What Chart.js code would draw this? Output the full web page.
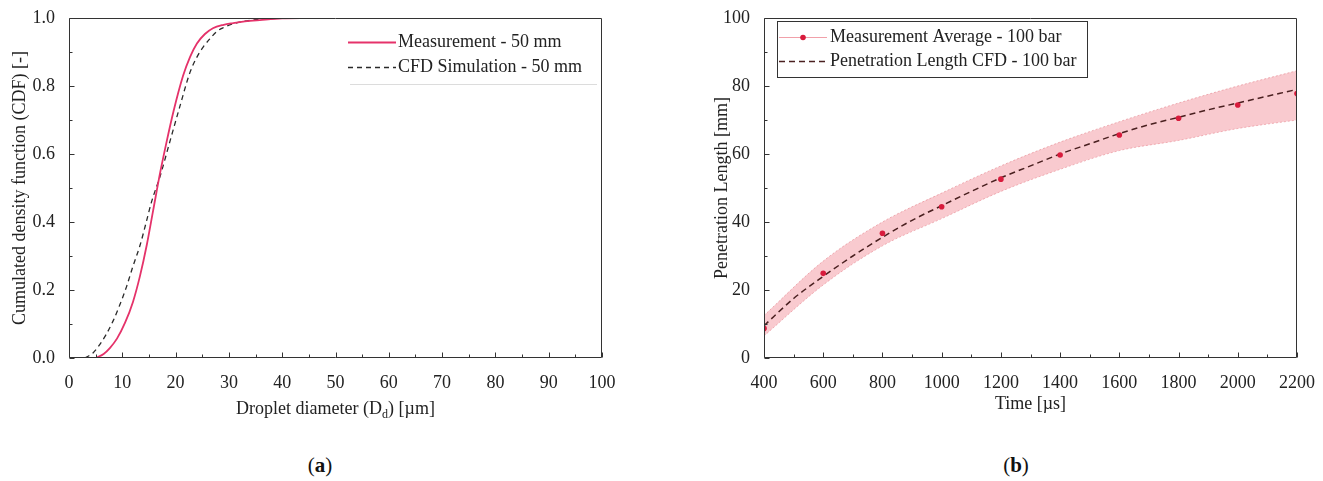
<!DOCTYPE html>
<html><head><meta charset="utf-8">
<script src="https://cdn.jsdelivr.net/npm/chart.js@4.4.1/dist/chart.umd.min.js"></script>
<style>
html,body{margin:0;padding:0;background:#fff;width:1323px;height:481px;overflow:hidden}
.box{position:absolute}
.cap{position:absolute;font-family:'Liberation Serif',serif;font-size:21px;color:#111;transform:translateX(-50%);white-space:nowrap}
</style></head><body>
<div class="box" style="left:0;top:0;width:640px;height:430px"><canvas id="c1"></canvas></div>
<div class="box" style="left:700px;top:0;width:623px;height:430px"><canvas id="c2"></canvas></div>
<div class="cap" style="left:320px;top:453px">(<b>a</b>)</div>
<div class="cap" style="left:1016px;top:453px">(<b>b</b>)</div>
<script>
// ---- Panel (a): droplet size CDF ----
const measDiameter = [5, 6.5, 7.7, 9, 10.5, 12, 13.3, 14.6, 15.8, 17.1, 18.3, 19.6, 21.4, 22.7, 24, 25.5, 27, 29, 30.8, 33, 35.8, 40, 45];
const measCdf      = [0, 0.012, 0.03, 0.057, 0.103, 0.165, 0.24, 0.333, 0.435, 0.545, 0.635, 0.725, 0.83, 0.885, 0.925, 0.953, 0.97, 0.98, 0.985, 0.99, 0.994, 0.999, 1.0];
const cfdDiameter  = [3, 4.5, 5.8, 7, 8.3, 9.5, 10.8, 12, 13.3, 14.5, 15.5, 17.1, 18.9, 20.8, 22.7, 24, 25.2, 26.5, 27.7, 29, 30.8, 34.5, 38, 42];
const cfdCdf       = [0, 0.015, 0.04, 0.07, 0.11, 0.155, 0.21, 0.27, 0.33, 0.4, 0.46, 0.535, 0.635, 0.74, 0.84, 0.885, 0.915, 0.94, 0.96, 0.972, 0.983, 0.994, 0.998, 1.0];
const cdfLabels = ['Measurement - 50 mm', 'CFD Simulation - 50 mm'];

// ---- Panel (b): penetration length ----
const timeMeas   = [400, 600, 800, 1000, 1200, 1400, 1600, 1800, 2000, 2200];
const lenMeas    = [8.7, 24.9, 36.7, 44.5, 52.6, 59.7, 65.6, 70.5, 74.4, 77.8];
const bandUpper  = [12.5, 28.5, 40, 48.5, 56.5, 63.5, 69.5, 75, 80, 84.5];
const bandLower  = [6.5, 21.5, 33, 41, 49, 55.5, 61, 64, 67.5, 70];
const timeCfd    = [400, 500, 600, 700, 800, 900, 1000, 1100, 1200, 1300, 1400, 1500, 1600, 1700, 1800, 1900, 2000, 2100, 2200];
const lenCfd     = [9.5, 17.5, 24, 30, 35.5, 40.5, 44.8, 49, 53, 56.5, 60, 63, 66, 68.6, 70.8, 73, 75, 77, 79];
const penLabels = ['Measurement Average - 100 bar', 'Penetration Length CFD - 100 bar'];

const FONT = "'Liberation Serif', serif";
const TXT = '#222';
const zip = (xs, ys) => xs.map((x, i) => ({x, y: ys[i]}));

const framePlugin = {
  id: 'frameTicks',
  afterDatasetsDraw(chart, args, o) {
    const {ctx, chartArea: a, scales: {x, y}} = chart;
    ctx.save();
    ctx.strokeStyle = '#333'; ctx.lineWidth = 1;
    const L = Math.round(a.left) + 0.5, R = Math.round(a.right) - 0.5, T = Math.round(a.top) + 0.5, B = Math.round(a.bottom) - 0.5;
    ctx.beginPath();
    ctx.rect(L, T, R - L, B - T);
    const eps = 1e-6;
    for (let v = x.min; v <= x.max + eps; v += o.xMinor) {
      const major = Math.abs(v / o.xMajor - Math.round(v / o.xMajor)) < 1e-6;
      const p = Math.round(x.getPixelForValue(v)) + 0.5;
      ctx.moveTo(p, B); ctx.lineTo(p, B - (major ? 5 : 3));
    }
    for (let v = y.min; v <= y.max + eps; v += o.yMinor) {
      const major = Math.abs(v / o.yMajor - Math.round(v / o.yMajor)) < 1e-6;
      const p = Math.round(y.getPixelForValue(v)) + 0.5;
      ctx.moveTo(L, p); ctx.lineTo(L + (major ? 5 : 3), p);
    }
    ctx.stroke();
    ctx.restore();
  }
};

const legendPlugin = {
  id: 'customLegend',
  afterDraw(chart, args, o) {
    const {ctx} = chart;
    ctx.save();
    if (o.box) {
      ctx.strokeStyle = '#333'; ctx.lineWidth = 1;
      ctx.strokeRect(o.box[0] + 0.5, o.box[1] + 0.5, o.box[2], o.box[3]);
    }
    if (o.underline) {
      ctx.strokeStyle = '#dcdcdc'; ctx.lineWidth = 1;
      ctx.beginPath(); ctx.moveTo(o.underline[0], o.underline[2] + 0.5); ctx.lineTo(o.underline[1], o.underline[2] + 0.5); ctx.stroke();
    }
    ctx.font = '18px ' + FONT; ctx.fillStyle = TXT; ctx.textBaseline = 'middle'; ctx.textAlign = 'left';
    o.items.forEach(it => {
      ctx.save();
      ctx.strokeStyle = it.color; ctx.lineWidth = it.width; ctx.setLineDash(it.dash || []);
      ctx.beginPath(); ctx.moveTo(o.x0, it.y + 0.5); ctx.lineTo(o.x1, it.y + 0.5); ctx.stroke();
      if (it.dot) {
        ctx.fillStyle = it.dot;
        ctx.beginPath(); ctx.arc((o.x0 + o.x1) / 2, it.y + 0.5, 2.8, 0, Math.PI * 2); ctx.fill();
      }
      ctx.restore();
      ctx.fillText(it.text, o.tx, it.y);
    });
    ctx.restore();
  }
};

const subTitlePlugin = {
  id: 'subTitle',
  afterDraw(chart, args, o) {
    if (!o.parts) return;
    const {ctx, chartArea: a} = chart;
    ctx.save();
    ctx.fillStyle = TXT; ctx.textBaseline = 'alphabetic'; ctx.textAlign = 'left';
    const big = '18px ' + FONT, small = '12px ' + FONT;
    let w = 0;
    o.parts.forEach(p => { ctx.font = p.sub ? small : big; w += ctx.measureText(p.t).width; });
    let xx = (a.left + a.right) / 2 - w / 2;
    o.parts.forEach(p => {
      ctx.font = p.sub ? small : big;
      ctx.fillText(p.t, xx, o.y + (p.sub ? 4 : 0));
      xx += ctx.measureText(p.t).width;
    });
    ctx.restore();
  }
};

Chart.register(framePlugin, legendPlugin, subTitlePlugin);

function axisBase(min, max, step, fmt) {
  return {
    type: 'linear', min, max,
    grid: {display: false}, border: {display: false},
    ticks: {stepSize: step, padding: 6, color: TXT, font: {family: FONT, size: 18}, maxRotation: 0, autoSkip: false,
            callback: fmt}
  };
}

new Chart(document.getElementById('c1'), {
  type: 'scatter',
  data: {
    datasets: [
      {label: cdfLabels[0], data: zip(measDiameter, measCdf), showLine: true, borderColor: '#e5326a', borderWidth: 1.8,
       pointRadius: 0, cubicInterpolationMode: 'monotone', fill: false},
      {label: cdfLabels[1], data: zip(cfdDiameter, cfdCdf), showLine: true, borderColor: '#2a2a2a', borderWidth: 1.3,
       borderDash: [5, 4], pointRadius: 0, cubicInterpolationMode: 'monotone', fill: false}
    ]
  },
  options: {
    responsive: true, maintainAspectRatio: false, animation: false,
    layout: {padding: {top: 18, right: 38, left: 0, bottom: 0}},
    scales: {
      x: Object.assign(axisBase(0, 100, 10, v => String(v)), {afterFit: s => { s.height = 72; }}),
      y: Object.assign(axisBase(0, 1, 0.2, v => v.toFixed(1)), {
        afterFit: s => { s.width = 69; },
        title: {display: true, text: 'Cumulated density function (CDF) [-]', color: TXT, font: {family: FONT, size: 18}, padding: {top: 9, bottom: 0}}
      })
    },
    plugins: {
      legend: {display: false}, tooltip: {enabled: false},
      frameTicks: {xMinor: 5, xMajor: 10, yMinor: 0.1, yMajor: 0.2},
      customLegend: {x0: 348, x1: 396, tx: 398, underline: [350, 597, 84], items: [
        {text: cdfLabels[0], y: 42, color: '#e5326a', width: 1.8},
        {text: cdfLabels[1], y: 67, color: '#2a2a2a', width: 1.3, dash: [5, 4]}
      ]},
      subTitle: {y: 414, parts: [{t: 'Droplet diameter (D'}, {t: 'd', sub: true}, {t: ') [µm]'}]}
    }
  }
});

new Chart(document.getElementById('c2'), {
  type: 'scatter',
  data: {
    datasets: [
      {label: penLabels[0], data: zip(timeMeas, lenMeas), showLine: false, pointRadius: 2.8, pointBackgroundColor: '#d81b3c',
       pointBorderWidth: 0},
      {label: penLabels[1], data: zip(timeCfd, lenCfd), showLine: true, borderColor: '#4a2020', borderWidth: 1.5,
       borderDash: [6, 4], pointRadius: 0, cubicInterpolationMode: 'monotone', fill: false},
      {label: 'band upper', data: zip(timeMeas, bandUpper), showLine: true, borderColor: 'rgba(225,120,130,0.55)', borderWidth: 1,
       borderDash: [2, 2], pointRadius: 0, cubicInterpolationMode: 'monotone', fill: '+1', backgroundColor: 'rgba(244,150,160,0.5)'},
      {label: 'band lower', data: zip(timeMeas, bandLower), showLine: true, borderColor: 'rgba(225,120,130,0.55)', borderWidth: 1,
       borderDash: [2, 2], pointRadius: 0, cubicInterpolationMode: 'monotone', fill: false}
    ]
  },
  options: {
    responsive: true, maintainAspectRatio: false, animation: false,
    layout: {padding: {top: 18, right: 26, left: 0, bottom: 0}},
    scales: {
      x: Object.assign(axisBase(400, 2200, 200, v => String(v)), {
        afterFit: s => { s.height = 72; },
        title: {display: true, text: 'Time [µs]', color: TXT, font: {family: FONT, size: 18}, padding: {top: 0, bottom: 15}}
      }),
      y: Object.assign(axisBase(0, 100, 20, v => String(v)), {
        afterFit: s => { s.width = 64; },
        title: {display: true, text: 'Penetration Length [mm]', color: TXT, font: {family: FONT, size: 18}, padding: {top: 11, bottom: 0}}
      })
    },
    plugins: {
      legend: {display: false}, tooltip: {enabled: false},
      frameTicks: {xMinor: 100, xMajor: 200, yMinor: 10, yMajor: 20},
      customLegend: {x0: 79, x1: 127, tx: 130, box: [77, 21, 310, 56], items: [
        {text: penLabels[0], y: 37, color: 'rgba(240,150,160,0.9)', width: 1.2, dot: '#d81b3c'},
        {text: penLabels[1], y: 61, color: '#4a2020', width: 1.5, dash: [6, 4]}
      ]}
    }
  }
});
</script>
</body></html>
